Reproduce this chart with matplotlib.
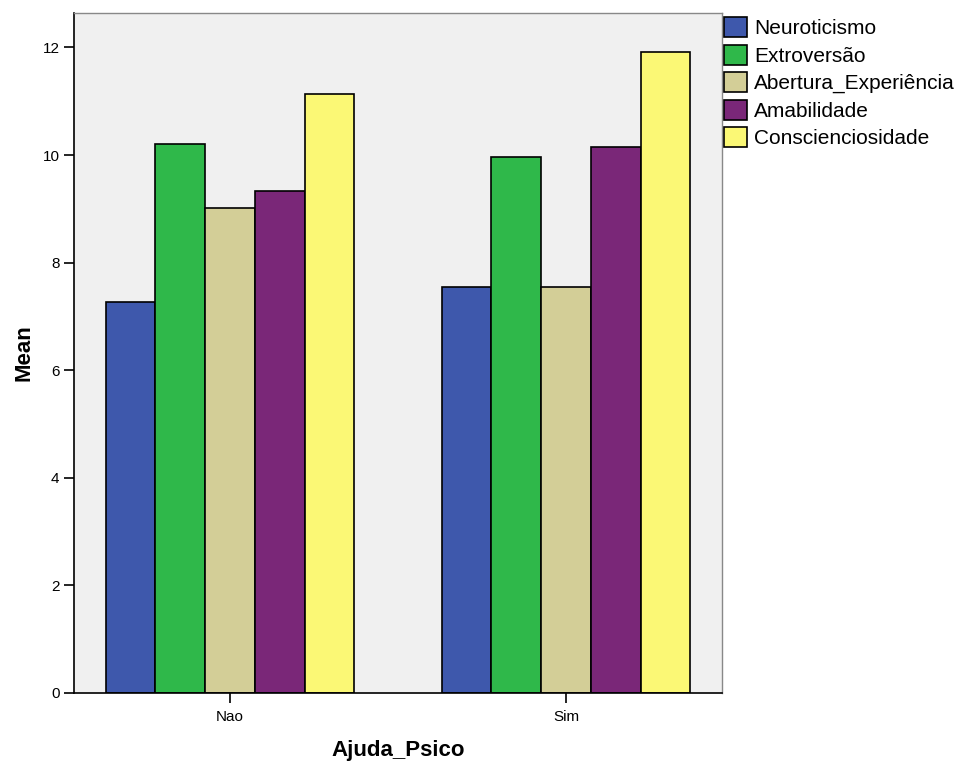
import matplotlib.pyplot as plt
import numpy as np

plt.rcParams['font.family'] = ['Liberation Sans', 'DejaVu Sans']

groups = ['Nao', 'Sim']
traits = ['Neuroticismo', 'Extroversão', 'Abertura_Experiência', 'Amabilidade', 'Conscienciosidade']
neuroticismo = [7.26, 7.55]
extroversao = [10.21, 9.96]
abertura = [9.01, 7.55]
amabilidade = [9.34, 10.15]
conscienciosidade = [11.13, 11.91]
colors = ['#3e58ac', '#2fb84a', '#d3ce97', '#7a2778', '#fbf875']


def main():
    fig = plt.figure(figsize=(9.6, 7.61), dpi=100)
    ax = fig.add_axes([74/960, 1-693/761, (722-74)/960, (693-13)/761])
    ax.set_facecolor('#f0f0f0')

    series = [neuroticismo, extroversao, abertura, amabilidade, conscienciosidade]
    x = np.arange(len(groups))
    w = 0.148
    for i, vals in enumerate(series):
        ax.bar(x + (i - 2) * w, vals, width=w, color=colors[i], edgecolor='black',
               linewidth=1.2, label=traits[i], zorder=2)

    ax.set_xlim(-0.464, 1.464)
    ax.set_ylim(0, 12.64)
    ax.set_yticks([0, 2, 4, 6, 8, 10, 12])
    ax.set_xticks(x)
    ax.set_xticklabels(groups)
    ax.tick_params(axis='both', labelsize=11, length=7.5, width=1.2, color='black', direction='out')
    ax.tick_params(axis='y', pad=3)
    ax.tick_params(axis='x', pad=5)

    for s in ['left', 'bottom']:
        ax.spines[s].set_color('black')
        ax.spines[s].set_linewidth(1.2)
    for s in ['top', 'right']:
        ax.spines[s].set_color('#888888')
        ax.spines[s].set_linewidth(1.0)

    ax.set_ylabel('Mean', fontsize=16, fontweight='bold', labelpad=6)
    ax.set_xlabel('Ajuda_Psico', fontsize=16, fontweight='bold', labelpad=11)

    ax.legend(loc='upper left', bbox_to_anchor=(1.0, 0.997), frameon=False, fontsize=15,
              handlelength=1.1, handleheight=1.12, labelspacing=0.3, handletextpad=0.34,
              borderaxespad=0.0, borderpad=0.1)

    fig.savefig('out.png', dpi=100)


if __name__ == "__main__":
    main()
